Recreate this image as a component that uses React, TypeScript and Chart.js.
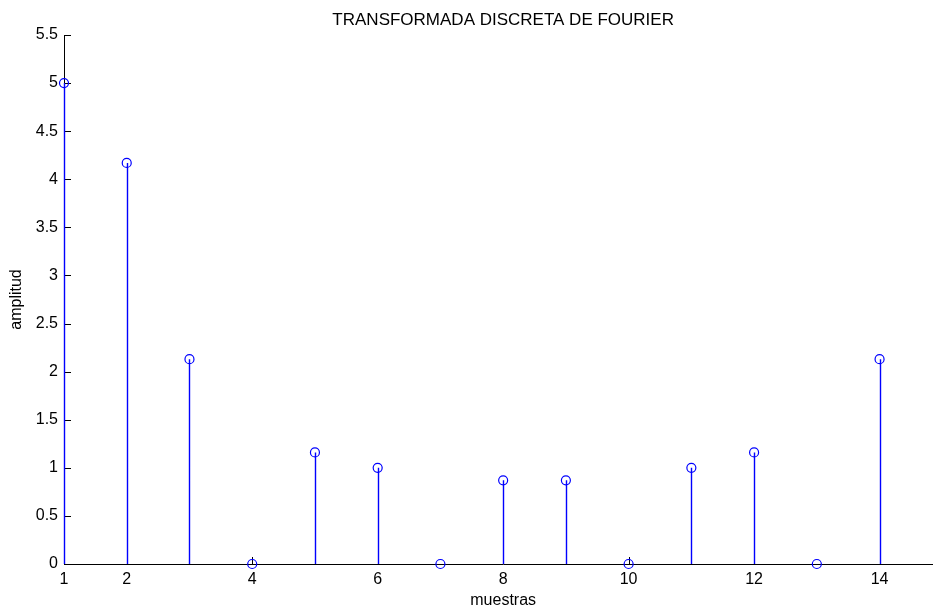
import React, { useEffect, useRef } from "react";
import { Chart, registerables } from "chart.js";

Chart.register(...registerables);

// DFT magnitude per sample index
const muestras = [1, 2, 3, 4, 5, 6, 7, 8, 9, 10, 11, 12, 13, 14];
const amplitud = [5, 4.17, 2.13, 0, 1.16, 1, 0, 0.87, 0.87, 0, 1, 1.16, 0, 2.13];

const xTickValues = [1, 2, 4, 6, 8, 10, 12, 14];
const yTickValues = [0, 0.5, 1, 1.5, 2, 2.5, 3, 3.5, 4, 4.5, 5, 5.5];

const titulo = "TRANSFORMADA DISCRETA DE FOURIER";
const etiquetaX = "muestras";
const etiquetaY = "amplitud";

const FONT = "'Liberation Sans', Arial, Helvetica, sans-serif";
const STEM_COLOR = "#0000ff";

// Stems, inward tick marks and the title, in the style of a MATLAB stem plot
const stemPlugin = {
  id: "stemPlot",
  beforeDatasetsDraw(chart: any) {
    const { ctx, chartArea, scales } = chart;
    const xs = scales.x;
    const ys = scales.y;
    ctx.save();

    // tick marks pointing into the plot area
    ctx.lineWidth = 1;
    ctx.strokeStyle = "#000";
    ctx.beginPath();
    for (const v of yTickValues) {
      const py = Math.round(ys.getPixelForValue(v)) + 0.5;
      ctx.moveTo(chartArea.left, py);
      ctx.lineTo(chartArea.left + 7, py);
    }
    for (const v of xTickValues) {
      const px = Math.round(xs.getPixelForValue(v)) + 0.5;
      ctx.moveTo(px, chartArea.bottom);
      ctx.lineTo(px, chartArea.bottom - 7);
    }
    ctx.stroke();

    // vertical stems from zero to each value
    const meta = chart.getDatasetMeta(0);
    const y0 = ys.getPixelForValue(0);
    ctx.strokeStyle = STEM_COLOR;
    ctx.lineWidth = 1.4;
    ctx.beginPath();
    meta.data.forEach((pt: any) => {
      const px = Math.round(pt.x) + 0.5;
      ctx.moveTo(px, y0);
      ctx.lineTo(px, pt.y);
    });
    ctx.stroke();
    ctx.restore();
  },
  afterDraw(chart: any) {
    const { ctx, chartArea } = chart;
    ctx.save();
    ctx.fillStyle = "#000";
    ctx.font = `17px ${FONT}`;
    ctx.textAlign = "center";
    ctx.textBaseline = "alphabetic";
    ctx.fillText(titulo, (chartArea.left + chartArea.right) / 2, 25);
    ctx.restore();
  },
};

export default function App() {
  const canvasRef = useRef<HTMLCanvasElement | null>(null);

  useEffect(() => {
    const canvas = canvasRef.current;
    if (!canvas) return;

    const chart = new Chart(canvas, {
      type: "scatter",
      data: {
        datasets: [
          {
            data: muestras.map((m, i) => ({ x: m, y: amplitud[i] })),
            showLine: false,
            pointStyle: "circle",
            pointRadius: 4.5,
            pointBorderWidth: 1.2,
            pointBorderColor: STEM_COLOR,
            pointBackgroundColor: "rgba(0,0,0,0)",
            clip: false,
          } as any,
        ],
      },
      plugins: [stemPlugin],
      options: {
        animation: false,
        responsive: false,
        devicePixelRatio: 1,
        layout: { padding: { top: 35, right: 0, bottom: 0, left: 0 } },
        plugins: {
          legend: { display: false },
          tooltip: { enabled: false },
          title: { display: false },
        },
        scales: {
          x: {
            type: "linear",
            min: 1,
            max: 15,
            afterBuildTicks: (scale: any) => {
              scale.ticks = xTickValues.map((v) => ({ value: v }));
            },
            afterFit: (scale: any) => {
              scale.height = 44;
            },
            grid: { display: false, drawTicks: false },
            border: { display: true, color: "#000", width: 1 },
            ticks: {
              color: "#000",
              font: { family: FONT, size: 16 },
              padding: 6,
              maxRotation: 0,
              autoSkip: false,
              callback: (v: any) => String(v),
            },
            title: {
              display: true,
              text: etiquetaX,
              color: "#000",
              font: { family: FONT, size: 16 },
              padding: { top: 0, bottom: -2 },
            },
          },
          y: {
            type: "linear",
            min: 0,
            max: 5.5,
            afterBuildTicks: (scale: any) => {
              scale.ticks = yTickValues.map((v) => ({ value: v }));
            },
            afterFit: (scale: any) => {
              scale.width = 64;
            },
            grid: { display: false, drawTicks: false },
            border: { display: true, color: "#000", width: 1 },
            ticks: {
              color: "#000",
              font: { family: FONT, size: 16 },
              padding: 6,
              autoSkip: false,
              callback: (v: any) => String(v),
            },
            title: {
              display: true,
              text: etiquetaY,
              color: "#000",
              font: { family: FONT, size: 16 },
              padding: { top: 7, bottom: 0 },
            },
          },
        },
      } as any,
    });

    return () => chart.destroy();
  }, []);

  return (
    <div
      style={{
        position: "absolute",
        left: 0,
        top: 0,
        width: 933,
        height: 608,
        overflow: "hidden",
        background: "#fff",
      }}
    >
      <canvas ref={canvasRef} width={948} height={608} style={{ display: "block" }} />
    </div>
  );
}
